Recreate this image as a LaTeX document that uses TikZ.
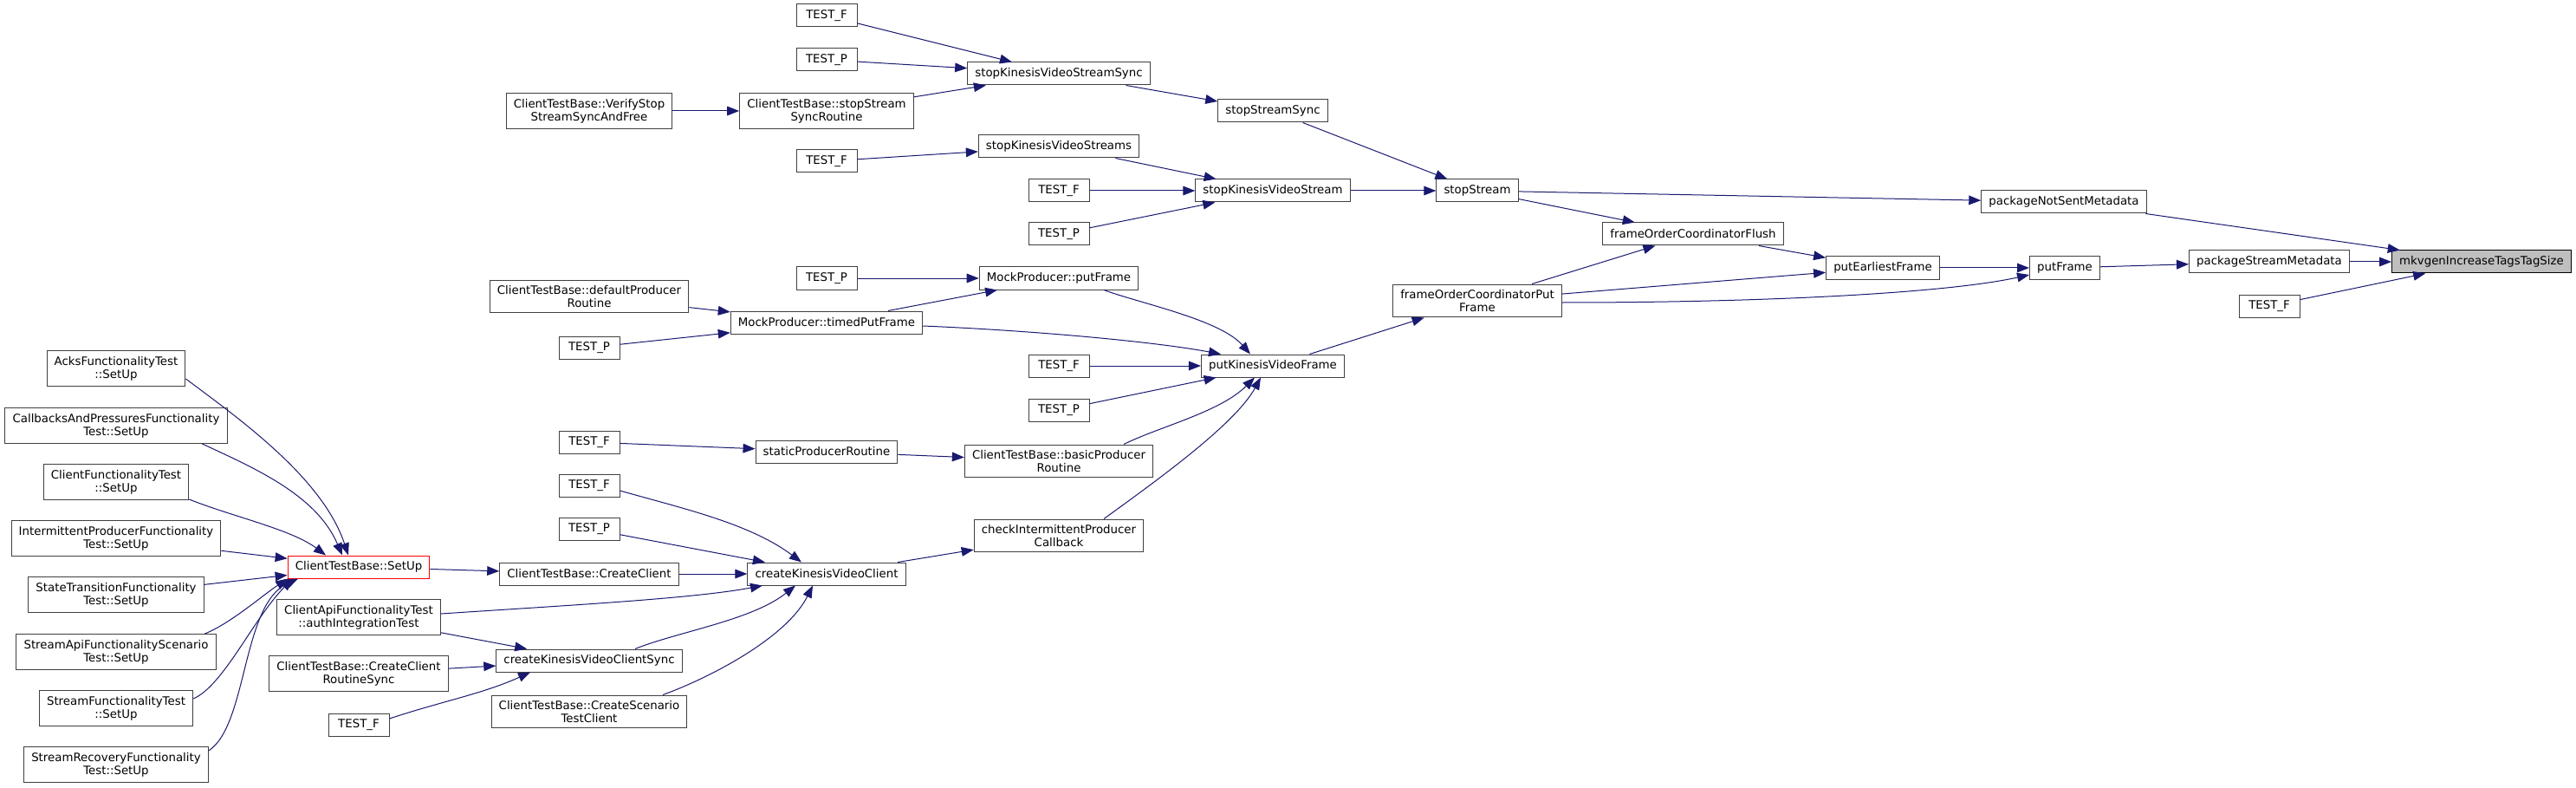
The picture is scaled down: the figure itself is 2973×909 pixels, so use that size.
\documentclass[tikz,border=0pt]{standalone}
\usepackage{fontspec}
\setmainfont{DejaVu Sans}
\usetikzlibrary{arrows.meta,calc}
\definecolor{ejfel}{HTML}{191970}
\tikzset{
  fv/.style={draw=black!75,fill=white,line width=0.75pt,inner xsep=6.5pt,inner ysep=4.75pt,
             minimum width=52.5pt,minimum height=19.5pt,align=center,
             font=\fontsize{10}{11.25}\selectfont},
  csonka/.style={fv,draw=red},
  fokusz/.style={fv,draw=black,fill=black!25},
  nyil/.style={-{Triangle[length=10.5pt,width=8pt]},draw=ejfel,line width=0.75pt},
}

\begin{document}
\begin{tikzpicture}[x=0.75pt,y=-0.75pt]
  \useasboundingbox (0,0) rectangle (2973,909);
  \node[fokusz] (mkv) at (2864,302) {mkvgenIncreaseTagsTagSize};
  \node[fv] (psm) at (2619,302) {packageStreamMetadata};
  \node[fv] (tf11) at (2619,353) {TEST\_F};
  \node[fv] (pnsm) at (2382,233) {packageNotSentMetadata};
  \node[fv] (pf) at (2383,309) {putFrame};
  \node[fv] (pef) at (2173,309) {putEarliestFrame};
  \node[fv] (focf) at (1954,270) {frameOrderCoordinatorFlush};
  \node[fv] (focpf) at (1705,347) {frameOrderCoordinatorPut\\Frame};
  \node[fv] (ss) at (1705,220) {stopStream};
  \node[fv] (sss) at (1469,128) {stopStreamSync};
  \node[fv] (skvs) at (1469,220) {stopKinesisVideoStream};
  \node[fv] (pkvf) at (1469,422) {putKinesisVideoFrame};
  \node[fv] (skvss) at (1222,85) {stopKinesisVideoStreamSync};
  \node[fv] (skvsm) at (1222,169) {stopKinesisVideoStreams};
  \node[fv] (tf5a) at (1222,220) {TEST\_F};
  \node[fv] (tp5a) at (1222,270) {TEST\_P};
  \node[fv] (mpf) at (1222,321) {MockProducer::putFrame};
  \node[fv] (tf5b) at (1222,422) {TEST\_F};
  \node[fv] (tp5b) at (1222,473) {TEST\_P};
  \node[fv] (bpr) at (1222,532) {ClientTestBase::basicProducer\\Routine};
  \node[fv] (cipc) at (1222,618) {checkIntermittentProducer\\Callback};
  \node[fv] (tf4a) at (954,18) {TEST\_F};
  \node[fv] (tp4a) at (954,69) {TEST\_P};
  \node[fv] (sssr) at (954,128) {ClientTestBase::stopStream\\SyncRoutine};
  \node[fv] (tf4b) at (954,186) {TEST\_F};
  \node[fv] (tp4b) at (954,321) {TEST\_P};
  \node[fv] (tpf) at (954,372) {MockProducer::timedPutFrame};
  \node[fv] (spr) at (954,521) {staticProducerRoutine};
  \node[fv] (ckvc) at (954,662) {createKinesisVideoClient};
  \node[fv] (vss) at (680,128) {ClientTestBase::VerifyStop\\StreamSyncAndFree};
  \node[fv] (dpr) at (680,342) {ClientTestBase::defaultProducer\\Routine};
  \node[fv] (tp3a) at (680,401) {TEST\_P};
  \node[fv] (tf3a) at (680,510) {TEST\_F};
  \node[fv] (tf3b) at (680,560) {TEST\_F};
  \node[fv] (tp3b) at (680,610) {TEST\_P};
  \node[fv] (cc) at (680,662) {ClientTestBase::CreateClient};
  \node[fv] (ckvcs) at (680,762) {createKinesisVideoClientSync};
  \node[fv] (ccst) at (680,821) {ClientTestBase::CreateScenario\\TestClient};
  \node[csonka] (setup) at (414,654) {ClientTestBase::SetUp};
  \node[fv] (auth) at (414,712) {ClientApiFunctionalityTest\\::authIntegrationTest};
  \node[fv] (ccrs) at (414,777) {ClientTestBase::CreateClient\\RoutineSync};
  \node[fv] (tf2) at (414,836) {TEST\_F};
  \node[fv] (acks) at (134,425) {AcksFunctionalityTest\\::SetUp};
  \node[fv] (cbp) at (134,491) {CallbacksAndPressuresFunctionality\\Test::SetUp};
  \node[fv] (cft) at (134,556) {ClientFunctionalityTest\\::SetUp};
  \node[fv] (ipf) at (134,621) {IntermittentProducerFunctionality\\Test::SetUp};
  \node[fv] (stf) at (134,686) {StateTransitionFunctionality\\Test::SetUp};
  \node[fv] (saf) at (134,752) {StreamApiFunctionalityScenario\\Test::SetUp};
  \node[fv] (sft) at (134,817) {StreamFunctionalityTest\\::SetUp};
  \node[fv] (srf) at (134,882) {StreamRecoveryFunctionality\\Test::SetUp};
  \draw[nyil] (tf4a) -- (skvss);
  \draw[nyil] (tp4a) -- (skvss);
  \draw[nyil] (sssr) -- (skvss);
  \draw[nyil] (vss) -- (sssr);
  \draw[nyil] (skvss) -- (sss);
  \draw[nyil] (sss) -- (ss);
  \draw[nyil] (tf4b) -- (skvsm);
  \draw[nyil] (skvsm) -- (skvs);
  \draw[nyil] (tf5a) -- (skvs);
  \draw[nyil] (tp5a) -- (skvs);
  \draw[nyil] (skvs) -- (ss);
  \draw[nyil] (ss) -- (pnsm);
  \draw[nyil] (ss) -- (focf);
  \draw[nyil] (focpf) -- (focf);
  \draw[nyil] (focf) -- (pef);
  \draw[nyil] (focpf) -- (pef);
  \draw[nyil] ($(focpf.east)+(0,2)$) .. controls +(250,0) and +(-90,20) .. ($(pf.west)+(0,8)$);
  \draw[nyil] (pef) -- (pf);
  \draw[nyil] (pf) -- (psm);
  \draw[nyil] (psm) -- (mkv);
  \draw[nyil] (pnsm) -- (mkv);
  \draw[nyil] (tf11) -- (mkv);
  \draw[nyil] (pkvf) -- (focpf);
  \draw[nyil] (tp4b) -- (mpf);
  \draw[nyil] (tpf) -- (mpf);
  \draw[nyil] ($(mpf.south)+(52,0)$) .. controls +(40,15) and +(-35,-40) .. ($(pkvf.north)+(-26,0)$);
  \draw[nyil] ($(tpf.east)+(0,4)$) .. controls +(120,5) and +(-80,-15) .. ($(pkvf.north west)+(23,0)$);
  \draw[nyil] (dpr) -- (tpf);
  \draw[nyil] (tp3a) -- (tpf);
  \draw[nyil] (tf5b) -- (pkvf);
  \draw[nyil] (tp5b) -- (pkvf);
  \draw[nyil] ($(bpr.north)+(75,0)$) .. controls +(40,-20) and +(-40,40) .. ($(pkvf.south)+(-21,0)$);
  \draw[nyil] ($(cipc.north)+(52,0)$) .. controls +(55,-40) and +(-30,55) .. ($(pkvf.south)+(-14,0)$);
  \draw[nyil] (spr) -- (bpr);
  \draw[nyil] (tf3a) -- (spr);
  \draw[nyil] (ckvc) -- (cipc);
  \draw[nyil] ($(tf3b.east)+(0,6)$) .. controls +(70,20) and +(-60,-45) .. ($(ckvc.north)+(-29,0)$);
  \draw[nyil] (tp3b) -- (ckvc);
  \draw[nyil] (cc) -- (ckvc);
  \draw[nyil] ($(auth.east)+(0,-4)$) .. controls +(150,-10) and +(-80,15) .. ($(ckvc.south)+(-74,0)$);
  \draw[nyil] (auth) -- (ckvcs);
  \draw[nyil] ($(ckvcs.north)+(53,0)$) .. controls +(50,-20) and +(-50,40) .. ($(ckvc.south)+(-36,0)$);
  \draw[nyil] ($(ccst.north)+(85,0)$) .. controls +(55,-20) and +(-30,60) .. ($(ckvc.south)+(-16,0)$);
  \draw[nyil] (ccrs) -- (ckvcs);
  \draw[nyil] ($(tf2.east)+(0,-7)$) .. controls +(60,-20) and +(-55,25) .. ($(ckvcs.south)+(-68,0)$);
  \draw[nyil] (setup) -- (cc);
  \draw[nyil] ($(acks.east)+(0,12)$) .. controls +(60,45) and +(-30,-90) .. ($(setup.north)+(-12,0)$);
  \draw[nyil] ($(cbp.south)+(99,0)$) .. controls +(60,28) and +(-30,-70) .. ($(setup.north)+(-19,0)$);
  \draw[nyil] ($(cft.east)+(0,20)$) .. controls +(50,20) and +(-40,-30) .. ($(setup.north)+(-38,0)$);
  \draw[nyil] (ipf) -- (setup);
  \draw[nyil] (stf) -- (setup);
  \draw[nyil] ($(saf.north)+(102,0)$) .. controls +(30,-12) and +(-30,20) .. ($(setup.south)+(-82,0)$);
  \draw[nyil] ($(sft.east)+(0,-11)$) .. controls +(35,-15) and +(-45,45) .. ($(setup.south)+(-76,0)$);
  \draw[nyil] ($(srf.east)+(0,-16)$) .. controls +(45,-30) and +(-65,30) .. ($(setup.south)+(-70,0)$);
\end{tikzpicture}
\end{document}
